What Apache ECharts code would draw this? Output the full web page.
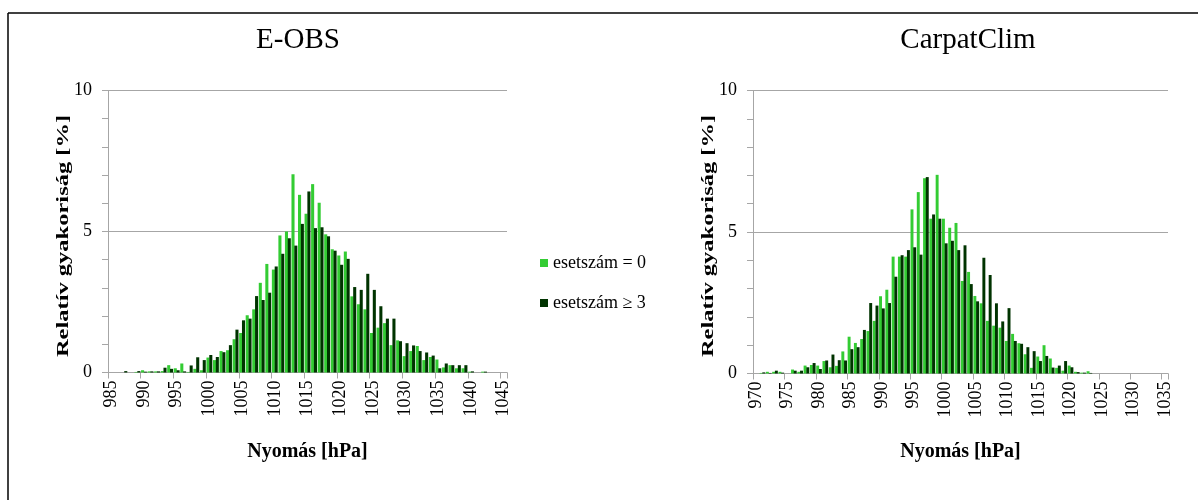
<!DOCTYPE html>
<html>
<head>
<meta charset="utf-8">
<script src="https://cdn.jsdelivr.net/npm/echarts@6/dist/echarts.min.js"></script>
<style>
html,body{margin:0;padding:0;background:#fff;}
#chart{width:1198px;height:500px;}
</style>
</head>
<body>
<div id="chart"></div>
<script>
// ---------- DATA ----------
const eobsCategories = ['985','986','987','988','989','990','991','992','993','994',
 '995','996','997','998','999','1000','1001','1002','1003','1004',
 '1005','1006','1007','1008','1009','1010','1011','1012','1013','1014',
 '1015','1016','1017','1018','1019','1020','1021','1022','1023','1024',
 '1025','1026','1027','1028','1029','1030','1031','1032','1033','1034',
 '1035','1036','1037','1038','1039','1040','1041','1042','1043','1044','1045'];
const eobsZero = [0,0,0,0,0.02,0.08,0.04,0.04,0.05,0.26,
 0.15,0.32,0.02,0.13,0.08,0.53,0.44,0.76,0.79,1.18,
 1.40,2.03,2.24,3.18,3.85,3.65,4.86,5.00,7.03,6.30,
 5.63,6.68,6.02,4.90,4.37,4.15,4.29,2.70,2.42,2.24,
 1.40,1.59,1.75,0.97,1.14,0.58,0.76,0.94,0.44,0.55,
 0.46,0.18,0.26,0.15,0.15,0.03,0,0.03,0,0,0];
const eobsThree = [0,0,0.05,0,0.05,0.03,0.04,0.04,0.17,0.13,
 0.08,0.04,0.25,0.54,0.44,0.62,0.55,0.72,0.97,1.52,
 1.85,1.91,2.71,2.57,2.83,3.76,4.21,4.76,4.50,5.27,
 6.42,5.12,5.15,4.83,4.32,3.82,4.03,3.03,2.93,3.50,
 2.93,2.35,1.91,1.91,1.11,1.04,0.96,0.76,0.71,0.60,
 0.15,0.32,0.26,0.26,0.26,0.04,0,0.03,0,0,0];

const carpCategories = ['970','971','972','973','974','975','976','977','978','979',
 '980','981','982','983','984','985','986','987','988','989',
 '990','991','992','993','994','995','996','997','998','999',
 '1000','1001','1002','1003','1004','1005','1006','1007','1008','1009',
 '1010','1011','1012','1013','1014','1015','1016','1017','1018','1019',
 '1020','1021','1022','1023','1024','1025','1026','1027','1028','1029',
 '1030','1031','1032','1033','1034','1035'];
const carpZero = [0,0.02,0.06,0.06,0.06,0,0.14,0.06,0.28,0.30,
 0.28,0.44,0.22,0.27,0.78,1.30,1.08,1.22,1.50,1.86,
 2.73,2.96,4.13,4.13,4.13,5.80,6.41,6.90,5.47,7.02,
 5.47,5.15,5.32,3.27,3.59,2.74,2.48,1.86,1.69,1.62,
 1.15,1.40,1.07,0.68,0.20,0.60,1.00,0.53,0.20,0.10,
 0.28,0.06,0.03,0.08,0,0,0,0,0,0,
 0,0,0,0,0,0];
const carpThree = [0,0.04,0.02,0.10,0.03,0,0.10,0.10,0.22,0.37,
 0.16,0.46,0.67,0.47,0.46,0.86,0.93,1.54,2.49,2.40,
 2.30,2.49,3.42,4.18,4.36,4.46,4.20,6.94,5.62,5.47,
 4.60,4.69,4.36,4.53,3.16,2.55,4.09,3.48,2.48,1.84,
 2.31,1.15,1.05,0.93,0.79,0.44,0.62,0.21,0.28,0.44,
 0.22,0.05,0.03,0.02,0,0,0,0,0,0,
 0,0,0,0,0,0];

const panelTitles = ['E-OBS', 'CarpatClim'];
const seriesNames = ['esetszám = 0', 'esetszám \u2265 3'];
const xAxisTitle = 'Nyomás [hPa]';
const yAxisTitle = 'Relatív gyakoriság [%]';
const yTicks = [0, 5, 10];

// ---------- STYLE ----------
const FONT = 'Liberation Serif, Times New Roman, serif';
const GREEN = '#33cc33';
const DARK = '#003300';
const GRID_GRAY = '#a6a6a6';

function xAxisCfg(gridIndex, cats, gap) {
  return {
    type: 'category', gridIndex: gridIndex, data: cats, boundaryGap: true,
    axisLine: {show: true, lineStyle: {color: GRID_GRAY, width: 1}},
    axisTick: {show: true, interval: 4, length: 6, alignWithLabel: false, lineStyle: {color: GRID_GRAY}},
    axisLabel: {interval: 4, rotate: 90, fontSize: 18, fontFamily: FONT, color: '#000', margin: 8},
    name: xAxisTitle, nameLocation: 'middle', nameGap: gap,
    nameTextStyle: {fontSize: 20, fontWeight: 'bold', fontFamily: FONT, color: '#000'}
  };
}
function yAxisCfg(gridIndex) {
  return {
    type: 'value', gridIndex: gridIndex, min: yTicks[0], max: yTicks[yTicks.length - 1], interval: yTicks[1] - yTicks[0],
    axisLine: {show: true, lineStyle: {color: GRID_GRAY, width: 1}},
    axisTick: {show: true, length: 6, lineStyle: {color: GRID_GRAY}},
    minorTick: {show: true, splitNumber: 5, length: 6, lineStyle: {color: GRID_GRAY}},
    splitLine: {show: true, lineStyle: {color: GRID_GRAY, width: 1}},
    axisLabel: {fontSize: 18, fontFamily: FONT, color: '#000', margin: 16}
  };
}
function barSeries(name, xi, data, color) {
  return {
    type: 'bar', name: name, xAxisIndex: xi, yAxisIndex: xi, data: data,
    barCategoryGap: '10%', barGap: '-8%',
    itemStyle: {color: color}, emphasis: {disabled: true}, animation: false
  };
}

const chart = echarts.init(document.getElementById('chart'), null, {renderer: 'canvas'});
chart.setOption({
  animation: false,
  backgroundColor: '#fff',
  grid: [
    {left: 108, top: 90.5, width: 399, height: 282, containLabel: false},
    {left: 753, top: 90.5, width: 415, height: 283, containLabel: false}
  ],
  xAxis: [xAxisCfg(0, eobsCategories, 69), xAxisCfg(1, carpCategories, 68)],
  yAxis: [yAxisCfg(0), yAxisCfg(1)],
  legend: {
    orient: 'vertical', left: 535, top: 249, itemWidth: 8, itemHeight: 8, itemGap: 22,
    icon: 'rect', selectedMode: false,
    textStyle: {fontSize: 18, fontFamily: FONT, color: '#000'},
    data: seriesNames
  },
  series: [
    barSeries(seriesNames[0], 0, eobsZero, GREEN),
    barSeries(seriesNames[1], 0, eobsThree, DARK),
    barSeries(seriesNames[0], 1, carpZero, GREEN),
    barSeries(seriesNames[1], 1, carpThree, DARK)
  ],
  graphic: [
    {type: 'line', shape: {x1: 8, y1: 13, x2: 1198, y2: 13}, style: {stroke: '#000', lineWidth: 1.5}},
    {type: 'line', shape: {x1: 8, y1: 13, x2: 8, y2: 500}, style: {stroke: '#000', lineWidth: 1.5}},
    {type: 'text', x: 298, y: 40, style: {text: panelTitles[0], font: '29px ' + FONT, fill: '#000', textAlign: 'center', textVerticalAlign: 'middle', align: 'center', verticalAlign: 'middle'}},
    {type: 'text', x: 968, y: 40, style: {text: panelTitles[1], font: '29px ' + FONT, fill: '#000', textAlign: 'center', textVerticalAlign: 'middle', align: 'center', verticalAlign: 'middle'}},
    {type: 'text', x: 63.5, y: 236, rotation: Math.PI / 2, scaleX: 1.4, style: {text: yAxisTitle, font: 'bold 17.5px ' + FONT, fill: '#000', textAlign: 'center', textVerticalAlign: 'middle', align: 'center', verticalAlign: 'middle'}},
    {type: 'text', x: 708, y: 236, rotation: Math.PI / 2, scaleX: 1.4, style: {text: yAxisTitle, font: 'bold 17.5px ' + FONT, fill: '#000', textAlign: 'center', textVerticalAlign: 'middle', align: 'center', verticalAlign: 'middle'}}
  ]
});
</script>
</body>
</html>
